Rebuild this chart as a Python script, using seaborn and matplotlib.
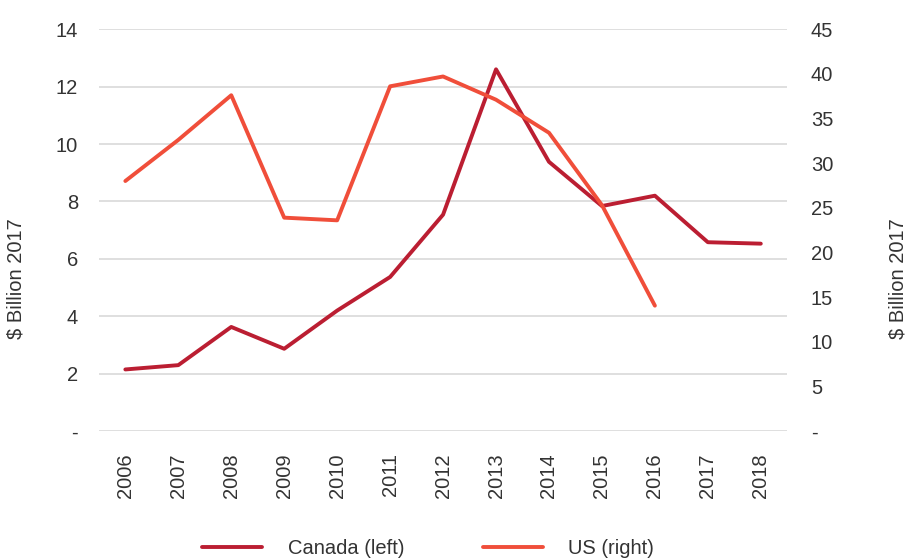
import numpy as np
import pandas as pd
import matplotlib
matplotlib.use("Agg")
import matplotlib.pyplot as plt
import seaborn as sns

# ==============================
# DATA
# ==============================

years = [2006, 2007, 2008, 2009, 2010, 2011, 2012, 2013, 2014, 2015, 2016, 2017, 2018]
canada = [2.15, 2.3, 3.63, 2.87, 4.2, 5.37, 7.54, 12.6, 9.38, 7.84, 8.2, 6.58, 6.53]
us = [28.0, 32.6, 37.6, 23.9, 23.6, 38.6, 39.7, 37.1, 33.4, 25.3, 14.05, np.nan, np.nan]

left_ticks = [0, 2, 4, 6, 8, 10, 12, 14]
right_ticks = [0, 5, 10, 15, 20, 25, 30, 35, 40, 45]

df = pd.DataFrame({"year": years, "Canada": canada, "US": us})

# ==============================
# STYLE
# ==============================

sns.set_style("white")
plt.rcParams["font.family"] = ["Liberation Sans", "DejaVu Sans"]

canada_color = "#BB1E32"
us_color = "#F04E3A"
text_color = "#333333"
fs = 14.5

fig = plt.figure(figsize=(9.07, 5.6), dpi=100)
ax = fig.add_axes([0.109, 0.230, 0.759, 0.718])
ax2 = ax.twinx()

sns.lineplot(data=df, x="year", y="Canada", ax=ax, color=canada_color,
             linewidth=2.8, label="Canada (left)", legend=False)
sns.lineplot(data=df.dropna(), x="year", y="US", ax=ax2, color=us_color,
             linewidth=2.8, label="US (right)", legend=False)

# left axis
ax.set_ylim(0, 14)
ax.set_yticks(left_ticks)
ax.set_yticklabels(["-"] + [str(t) for t in left_ticks[1:]])
ax.grid(axis="y", color="#D9D9D9", linewidth=1.2)
ax.grid(axis="x", visible=False)
ax.set_axisbelow(True)

# right axis
ax2.set_ylim(0, 45)
ax2.set_yticks(right_ticks)
ax2.set_yticklabels(["-"] + [str(t) for t in right_ticks[1:]])
ax2.grid(False)

ax.set_xlim(2005.5, 2018.5)
ax.set_xticks(years)
ax.set_xticklabels([str(y) for y in years], rotation=90)

for a in (ax, ax2):
    for s in a.spines.values():
        s.set_visible(False)
    a.tick_params(length=0, labelsize=fs, colors=text_color)

ax.tick_params(axis="y", pad=15)
ax2.tick_params(axis="y", pad=17)
ax.tick_params(axis="x", pad=16)

ax.set_xlabel("")
ax.set_ylabel("$ Billion 2017", fontsize=fs, color=text_color)
ax2.set_ylabel("$ Billion 2017", fontsize=fs, color=text_color)
ax.yaxis.set_label_coords(-0.107, 0.38)
ax2.yaxis.set_label_coords(1.147, 0.38)

# legend
h1, l1 = ax.get_legend_handles_labels()
h2, l2 = ax2.get_legend_handles_labels()
fig.legend(h1 + h2, l1 + l2, loc="center", bbox_to_anchor=(0.472, 0.02),
           ncol=2, frameon=False, fontsize=fs, handlelength=3.0,
           columnspacing=3.9, handletextpad=1.25, labelcolor=text_color)

fig.savefig("out.png", dpi=100)
